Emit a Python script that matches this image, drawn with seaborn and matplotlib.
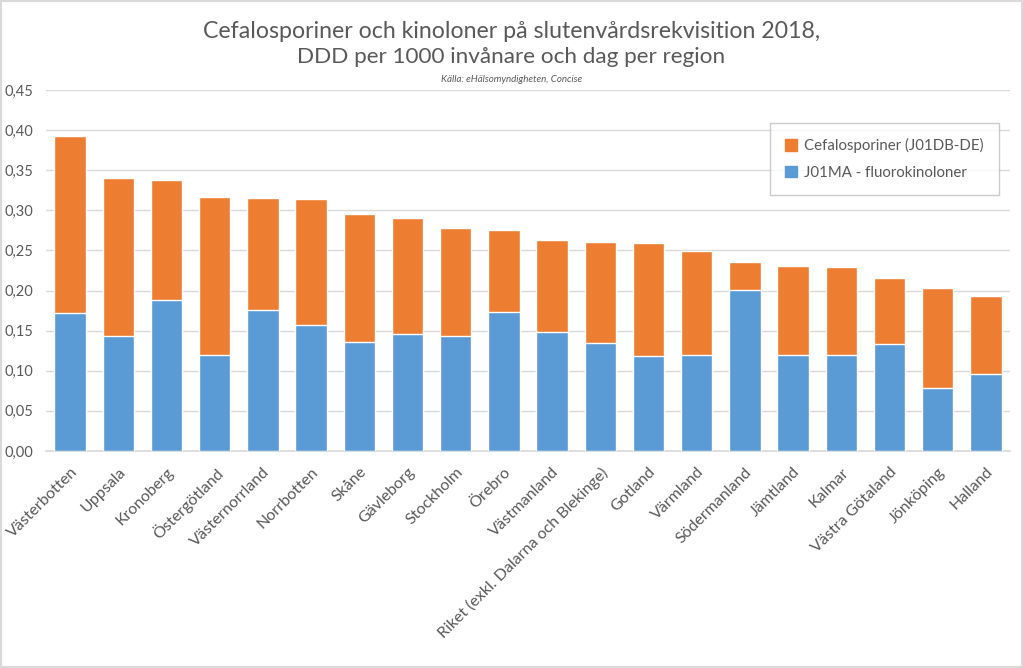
import matplotlib
matplotlib.use("Agg")
import matplotlib.pyplot as plt
import seaborn as sns
import pandas as pd
from matplotlib.patches import Patch, Rectangle
from matplotlib.ticker import FuncFormatter

regions = ["Västerbotten", "Uppsala", "Kronoberg", "Östergötland", "Västernorrland",
           "Norrbotten", "Skåne", "Gävleborg", "Stockholm", "Örebro", "Västmanland",
           "Riket (exkl. Dalarna och Blekinge)", "Gotland", "Värmland", "Södermanland",
           "Jämtland", "Kalmar", "Västra Götaland", "Jönköping", "Halland"]
total = [0.393, 0.340, 0.338, 0.316, 0.315, 0.314, 0.295, 0.290, 0.278, 0.275,
         0.263, 0.260, 0.259, 0.249, 0.235, 0.230, 0.229, 0.216, 0.203, 0.193]
fluorokinoloner = [0.172, 0.143, 0.188, 0.120, 0.176, 0.157, 0.136, 0.146, 0.143, 0.173,
                   0.148, 0.135, 0.118, 0.120, 0.201, 0.120, 0.120, 0.133, 0.079, 0.096]
cefalosporiner = [round(t - f, 3) for t, f in zip(total, fluorokinoloner)]
yticks = [0.0, 0.05, 0.10, 0.15, 0.20, 0.25, 0.30, 0.35, 0.40, 0.45]

ORANGE = "#ED7D31"
BLUE = "#5B9BD5"
GRAY = "#595959"

sns.set_theme(style="white")
plt.rcParams["font.family"] = ["Lato", "DejaVu Sans"]

df = pd.DataFrame({"region": regions, "total": total, "fluoro": fluorokinoloner,
                   "cefa": cefalosporiner})

fig = plt.figure(figsize=(10.23, 6.68), dpi=100)
ax = fig.add_axes([46 / 1023, 1 - 451 / 668, 964 / 1023, 361 / 668])

sns.barplot(data=df, x="region", y="total", color=ORANGE, saturation=1, width=0.65, ax=ax, zorder=2)
sns.barplot(data=df, x="region", y="fluoro", color=BLUE, saturation=1, width=0.65, ax=ax, zorder=3)

ax.set_ylim(0, 0.45)
ax.set_xlim(-0.5, len(regions) - 0.5)
ax.set_yticks(yticks)
ax.yaxis.set_major_formatter(FuncFormatter(lambda v, p: f"{v:.2f}".replace(".", ",")))
ax.grid(axis="y", color="#D9D9D9", linewidth=1, zorder=0)
ax.set_axisbelow(True)
for s in ["top", "right", "left"]:
    ax.spines[s].set_visible(False)
ax.spines["bottom"].set_color("#D9D9D9")
ax.set_xlabel("")
ax.set_ylabel("")
ax.tick_params(axis="y", colors=GRAY, labelsize=10.5, length=0, pad=9)
ax.tick_params(axis="x", colors=GRAY, length=0, pad=10)
ax.set_xticks(range(len(regions)))
ax.set_xticklabels(regions, rotation=45, ha="right", rotation_mode="anchor",
                   fontsize=11.5, color=GRAY)

handles = [Patch(color=ORANGE, label="Cefalosporiner (J01DB-DE)"),
           Patch(color=BLUE, label="J01MA - fluorokinoloner")]
leg = fig.legend(handles=handles, loc="upper left", bbox_to_anchor=(770 / 1023, 1 - 123 / 668),
                 frameon=True, fontsize=10.8, handlelength=0.8, handleheight=0.8,
                 labelspacing=0.85, borderpad=1.0, handletextpad=0.5, fancybox=False,
                 borderaxespad=0, labelcolor=GRAY)
leg.get_frame().set_edgecolor("#BFBFBF")
leg.get_frame().set_linewidth(1)

fig.text(0.5, 1 - 32 / 668, "Cefalosporiner och kinoloner på slutenvårdsrekvisition 2018,",
         ha="center", va="center", fontsize=16.7, color=GRAY)
fig.text(0.5, 1 - 57 / 668, "DDD per 1000 invånare och dag per region",
         ha="center", va="center", fontsize=16.2, color=GRAY)
fig.text(0.5, 1 - 79 / 668, "Källa: eHälsomyndigheten, Concise",
         ha="center", va="center", fontsize=7, style="italic", color=GRAY)

fig.patches.append(Rectangle((0.001, 0.001), 0.998, 0.997, transform=fig.transFigure,
                             fill=False, edgecolor="#D9D9D9", linewidth=1.5))

fig.savefig("out.png", dpi=100)
